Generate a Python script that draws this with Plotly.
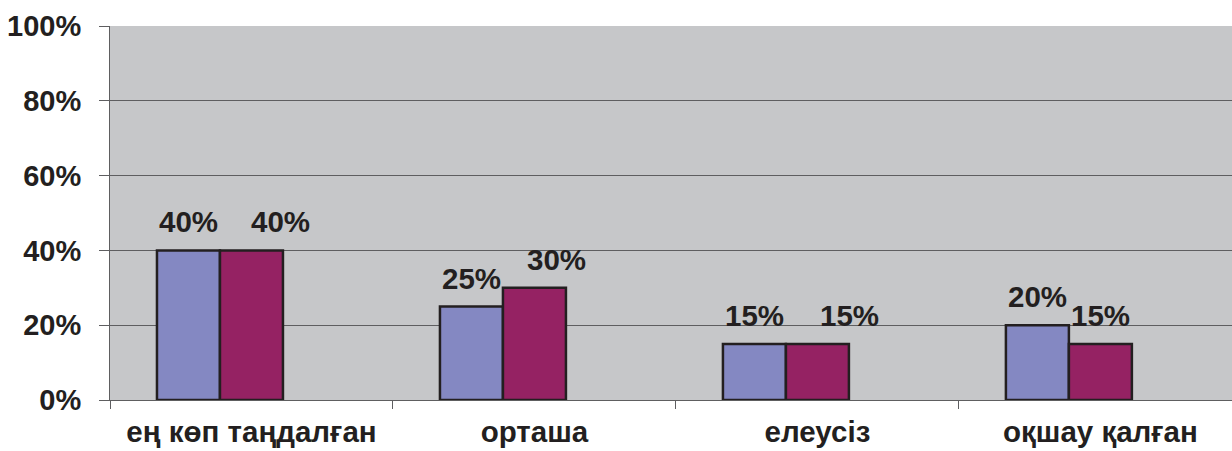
import plotly.graph_objects as go

# Survey categories and the two compared series (percent)
categories = ["ең көп таңдалған", "орташа", "елеусіз", "оқшау қалған"]
series_a = [40, 25, 15, 20]
series_b = [40, 30, 15, 15]
y_ticks = [0, 20, 40, 60, 80, 100]
y_tick_labels = [f"{v}%" for v in y_ticks]

# Styling
BLUE = "#8488c2"
MAROON = "#952263"
INK = "#231f20"
PLOT_BG = "#c6c7c9"
GRID = "#5e5e60"
FONT = "Liberation Sans"
BAR_W = 0.2226
OFF_A = -0.334
OFF_B = OFF_A + BAR_W
# pixel nudges of the second series' value labels
LABEL_SHIFT_B = [29, 22, 32, 0]

idx = list(range(len(categories)))

fig = go.Figure()
fig.add_trace(go.Bar(
    x=categories, y=series_a, width=BAR_W, offset=OFF_A,
    marker=dict(color=BLUE, line=dict(color=INK, width=2.5)),
    hoverinfo="skip", showlegend=False,
))
fig.add_trace(go.Bar(
    x=categories, y=series_b, width=BAR_W, offset=OFF_B,
    marker=dict(color=MAROON, line=dict(color=INK, width=2.5)),
    hoverinfo="skip", showlegend=False,
))

label_font = dict(family=FONT, size=29.5, color=INK, weight="bold")
for i, va, vb in zip(idx, series_a, series_b):
    fig.add_annotation(x=i + OFF_A + BAR_W / 2, y=va, text=f"{va}%",
                       showarrow=False, yanchor="bottom", yshift=10,
                       font=label_font)
    fig.add_annotation(x=i + OFF_B + BAR_W / 2, y=vb, text=f"{vb}%",
                       showarrow=False, yanchor="bottom", yshift=10,
                       xshift=LABEL_SHIFT_B[i], font=label_font)

fig.update_layout(
    width=1232, height=451,
    margin=dict(l=110, r=0, t=26, b=51),
    paper_bgcolor="white",
    plot_bgcolor=PLOT_BG,
    barmode="overlay",
    font=dict(family=FONT, color=INK, weight="bold"),
)
fig.update_xaxes(
    type="category",
    range=[-0.5, 3.465],
    automargin=False,
    tickson="boundaries",
    ticks="outside", ticklen=8, tickwidth=1, tickcolor=GRID,
    showline=True, linecolor=GRID, linewidth=1,
    showgrid=False,
    tickfont=dict(family=FONT, size=29.5, color=INK, weight="bold"),
    ticklabelstandoff=6,
)
fig.update_yaxes(
    range=[0, 100],
    automargin=False,
    tickvals=y_ticks, ticktext=y_tick_labels,
    ticks="outside", ticklen=10, tickwidth=1, tickcolor=GRID,
    showline=True, linecolor=GRID, linewidth=1,
    showgrid=True, gridcolor=GRID, gridwidth=1,
    zeroline=False,
    tickfont=dict(family=FONT, size=29, color=INK, weight="bold"),
    ticklabelstandoff=12,
)

fig.write_html("out.html")
